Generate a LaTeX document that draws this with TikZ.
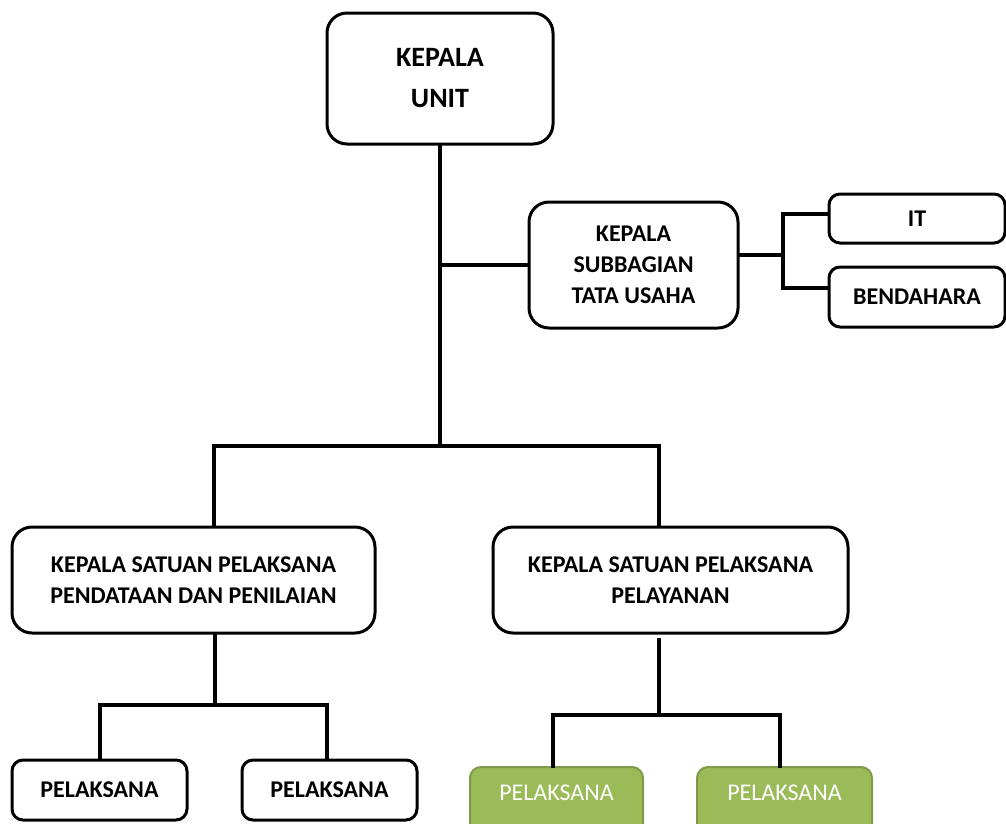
\documentclass[tikz,border=0pt]{standalone}
\usepackage{fontspec}
\setmainfont{Carlito}
\definecolor{gfill}{HTML}{9BBB59}
\definecolor{gline}{HTML}{7F9A48}
\begin{document}
\begin{tikzpicture}[x=1pt,y=-1pt,
  box/.style={draw=black, line width=3pt, rounded corners=20pt, align=center, inner sep=0pt,
    font=\fontsize{24}{31}\selectfont\bfseries},
  sbox/.style={box, rounded corners=11pt},
  gbox/.style={draw=gline, fill=gfill, line width=2pt, rounded corners=11pt, inner xsep=0pt, inner ysep=0pt,
    text=white, font=\fontsize{24}{31}\selectfont, text height=33.5pt, text depth=49.5pt},
  conn/.style={line width=3.8pt, line cap=rect}]
\useasboundingbox (0,0) rectangle (1006,823);
\clip (0,0) rectangle (1006,823);
\fill[white] (0,0) rectangle (1006,823);

\node[box, minimum width=226pt, minimum height=131pt, font=\fontsize{28}{41}\selectfont\bfseries] (ku) at (440,78.5) {KEPALA\\UNIT};
\node[box, minimum width=209pt, minimum height=126pt] (sub) at (633.5,265) {KEPALA\\SUBBAGIAN\\TATA USAHA};
\node[sbox, minimum width=176pt, minimum height=49pt] (it) at (917,218.5) {IT};
\node[sbox, minimum width=176pt, minimum height=60pt] (bend) at (917,297) {BENDAHARA};
\node[box, minimum width=363pt, minimum height=106pt] (L) at (193.5,580) {KEPALA SATUAN PELAKSANA\\PENDATAAN DAN PENILAIAN};
\node[box, minimum width=355pt, minimum height=106pt] (R) at (670.5,580) {KEPALA SATUAN PELAKSANA\\PELAYANAN};
\node[sbox, minimum width=175pt, minimum height=60pt] (p1) at (99.5,790) {PELAKSANA};
\node[sbox, minimum width=175pt, minimum height=60pt] (p2) at (329.5,790) {PELAKSANA};
\node[gbox, minimum width=173pt] (g1) at (556.5,808.5) {PELAKSANA};
\node[gbox, minimum width=175pt] (g2) at (784.5,808.5) {PELAKSANA};

\coordinate (j1) at (440,446);
\coordinate (jsub) at (440,265);
\coordinate (jl) at (214,446);
\coordinate (jr) at (659,446);
\coordinate (js) at (783,255);
\coordinate (itj) at (783,214);
\coordinate (bj) at (783,288);
\coordinate (jl2) at (215,705);
\coordinate (la) at (100,705);
\coordinate (lb) at (327,705);
\coordinate (jr2) at (659,715);
\coordinate (ra) at (553,715);
\coordinate (rb) at (780,715);
\coordinate (rs) at (659,640);

\draw[conn] (ku.south) -- (j1);
\draw[conn] (jsub) -- (sub.west);
\draw[conn] (jl |- L.north) -- (jl) -- (jr) -- (jr |- R.north);
\draw[conn] (js -| sub.east) -- (js);
\draw[conn] (itj -| it.west) -- (itj) -- (bj) -- (bj -| bend.west);
\draw[conn] (L.south -| jl2) -- (jl2);
\draw[conn] (la |- p1.north) -- (la) -- (lb) -- (lb |- p2.north);
\draw[conn] (rs) -- (jr2);
\draw[conn] (ra |- g1.north) -- (ra) -- (rb) -- (rb |- g2.north);
\end{tikzpicture}
\end{document}
